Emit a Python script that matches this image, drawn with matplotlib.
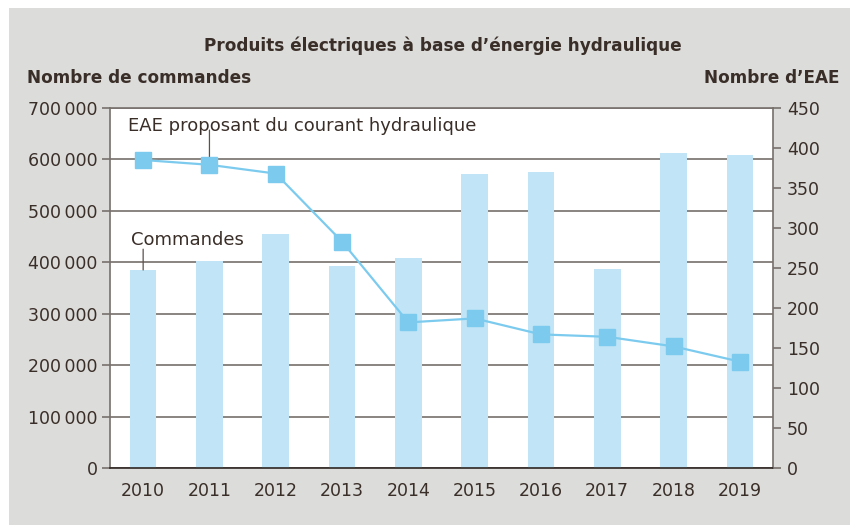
import numpy as np
import matplotlib
matplotlib.use("Agg")
import matplotlib.pyplot as plt
from matplotlib.patches import Rectangle
from matplotlib.ticker import FuncFormatter

# --- Data ---
years = ['2010', '2011', '2012', '2013', '2014', '2015', '2016', '2017', '2018', '2019']
commandes = [385000, 402000, 455000, 393000, 408000, 572000, 576000, 387000, 612000, 609000]
eae = [385, 379, 368, 283, 182, 187, 167, 164, 152, 133]

TITLE = "Produits électriques à base d\u2019énergie hydraulique"
LEFT_LABEL = "Nombre de commandes"
RIGHT_LABEL = "Nombre d\u2019EAE"

# --- Style ---
BG = '#dcdcda'
BAR_COLOR = '#c1e5f7'
LINE_COLOR = '#7ccbee'
GRID_COLOR = '#77706b'
TEXT_COLOR = '#3a2e28'
plt.rcParams['font.family'] = ['DejaVu Sans']

fig = plt.figure(figsize=(8.54, 5.25), dpi=100, facecolor='white')
# grey card behind the chart
fig.patches.append(Rectangle((9 / 854, 0), 841 / 854, 1 - 8 / 525, transform=fig.transFigure,
                             facecolor=BG, edgecolor='none', zorder=-10))

ax = fig.add_axes([110 / 854, 57 / 525, 663 / 854, 360 / 525])
ax.set_facecolor('white')
x = np.arange(len(years))

ax.bar(x, commandes, width=0.4, color=BAR_COLOR, zorder=2)
ax.set_xlim(-0.5, len(years) - 0.5)
ax.set_ylim(0, 700000)
ax.set_yticks(np.arange(0, 700001, 100000))
ax.yaxis.set_major_formatter(FuncFormatter(lambda v, p: f"{int(v):,}".replace(',', '\u2009')))
ax.grid(axis='y', color=GRID_COLOR, linewidth=1.2, zorder=1)
ax.set_axisbelow(True)
ax.set_xticks(x)
ax.set_xticklabels(years)
ax.tick_params(axis='x', length=0, pad=10, labelsize=12.5, labelcolor=TEXT_COLOR)
ax.tick_params(axis='y', length=6, width=1.2, color=GRID_COLOR, pad=3,
               labelsize=12.5, labelcolor=TEXT_COLOR)
for side in ['left', 'right', 'top']:
    ax.spines[side].set_color(GRID_COLOR)
    ax.spines[side].set_linewidth(1.2)
ax.spines['bottom'].set_color('#2e2622')
ax.spines['bottom'].set_linewidth(1.2)

# --- EAE line on right axis ---
ax2 = ax.twinx()
ax2.plot(x, eae, color=LINE_COLOR, linewidth=1.6, marker='s', markersize=11,
         markerfacecolor=LINE_COLOR, markeredgecolor=LINE_COLOR, zorder=5)
ax2.set_ylim(0, 450)
ax2.set_yticks(np.arange(0, 451, 50))
ax2.tick_params(axis='y', length=6, width=1.2, color=GRID_COLOR, pad=4,
                labelsize=12.5, labelcolor=TEXT_COLOR)
for side in ['left', 'right', 'top', 'bottom']:
    ax2.spines[side].set_visible(False)

# --- Annotations ---
ax2.annotate('', xy=(1, eae[1]), xytext=(0, 25), textcoords='offset points',
             arrowprops=dict(arrowstyle='-', color='#5a524d', lw=0.9, shrinkA=0, shrinkB=5.5))
ax.text(0.027, 0.95, "EAE proposant du courant hydraulique", transform=ax.transAxes,
        ha='left', va='center', fontsize=13, color=TEXT_COLOR)
ax.annotate('', xy=(0, commandes[0]), xytext=(0, 15), textcoords='offset points',
            arrowprops=dict(arrowstyle='-', color='#5a524d', lw=0.9, shrinkA=0, shrinkB=0))
ax.text(0.032, 0.633, "Commandes", transform=ax.transAxes,
        ha='left', va='center', fontsize=13, color=TEXT_COLOR)

# --- Titles ---
fig.text(443 / 854, 1 - 46 / 525, TITLE, ha='center', va='center',
         fontsize=12.2, fontweight='bold', color=TEXT_COLOR)
fig.text(27 / 854, 1 - 78 / 525, LEFT_LABEL, ha='left', va='center',
         fontsize=12.2, fontweight='bold', color=TEXT_COLOR)
fig.text(840 / 854, 1 - 78 / 525, RIGHT_LABEL, ha='right', va='center',
         fontsize=12.2, fontweight='bold', color=TEXT_COLOR)

fig.savefig('out.png', dpi=100, facecolor='white')
